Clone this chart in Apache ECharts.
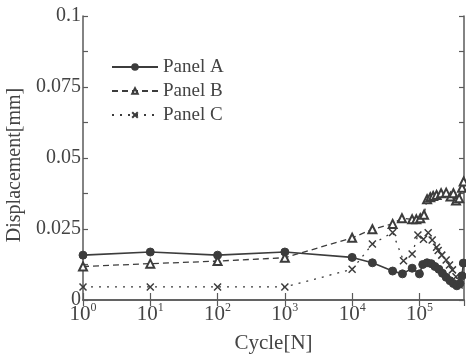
<!DOCTYPE html>
<html>
<head>
<meta charset="utf-8">
<script src="https://cdn.jsdelivr.net/npm/echarts@6/dist/echarts.min.js"></script>
<style>
  html, body { margin: 0; padding: 0; background: #fff; }
  #chart { width: 466px; height: 356px; }
</style>
</head>
<body>
<div id="chart"></div>
<script>
// Panel A (solid line, filled circles)
const cycleA = [1, 10, 100, 1000, 10000, 20000, 40000, 56000, 78000, 100000,
  112000, 130000, 150000, 170000, 195000, 220000, 250000, 285000, 320000, 360000, 400000, 430000, 450000]
const dispA = [0.0158, 0.0169, 0.0158, 0.0169, 0.0150, 0.0131, 0.0102, 0.0092, 0.0112, 0.0092,
  0.0125, 0.0131, 0.0128, 0.0118, 0.0108, 0.0094, 0.0080, 0.0068, 0.0058, 0.0050, 0.0058, 0.0085, 0.0130]

// Panel B (dashed line, open triangles)
const cycleB = [1, 10, 100, 1000, 10000, 20000, 40000, 55000, 78000, 90000, 103000, 117000,
  130000, 145000, 160000, 180000, 210000, 250000, 290000, 320000, 350000, 390000, 430000, 455000]
const dispB = [0.0118, 0.0128, 0.0137, 0.0149, 0.0219, 0.0249, 0.0268, 0.0288, 0.0284, 0.0284, 0.0288, 0.0300,
  0.0355, 0.0362, 0.0366, 0.0370, 0.0376, 0.0378, 0.0364, 0.0376, 0.0350, 0.0358, 0.0395, 0.0417]

// Panel C (dotted line, x marks)
const cycleC = [1, 10, 100, 1000, 10000, 20000, 40000, 58000, 78000, 95000, 115000, 135000,
  155000, 180000, 190000, 215000, 250000, 280000, 310000, 350000, 390000]
const dispC = [0.0046, 0.0046, 0.0046, 0.0046, 0.0108, 0.0197, 0.0238, 0.0138, 0.0162, 0.0229, 0.0214, 0.0237,
  0.0211, 0.0186, 0.0174, 0.0158, 0.0141, 0.0123, 0.0106, 0.0082, 0.0053]

const xMin = 1
const xMax = 460000
const yTicks = [0, 0.025, 0.05, 0.075, 0.1]

const pairs = (xs, ys) => xs.map((x, i) => [x, ys[i]])

const font = '"Liberation Serif", "DejaVu Serif", serif'
const ink = '#3c3c3c'
const axisColor = '#5a5a5a'

const chart = echarts.init(document.getElementById('chart'))
chart.setOption({
  animation: false,
  backgroundColor: '#fff',
  grid: {
    left: 83,
    right: 2,
    top: 16,
    bottom: 56,
    containLabel: false,
    outerBoundsMode: 'none'
  },
  legend: {
    orient: 'vertical',
    left: 106,
    top: 52,
    itemWidth: 46,
    itemHeight: 7,
    itemGap: 4,
    textStyle: { fontFamily: font, fontSize: 19, color: '#444', lineHeight: 20 },
    data: ['Panel A', 'Panel B', 'Panel C']
  },
  xAxis: [
    {
      type: 'log',
      logBase: 10,
      min: xMin,
      max: xMax,
      name: 'Cycle[N]',
      nameLocation: 'middle',
      nameGap: 33,
      nameTextStyle: { fontFamily: font, fontSize: 21, color: '#444' },
      axisLine: { lineStyle: { color: axisColor, width: 1.5 } },
      axisTick: { inside: true, length: 7, lineStyle: { color: axisColor, width: 1.2 } },
      splitLine: { show: false },
      axisLabel: {
        margin: 2,
        showMaxLabel: false,
        formatter: v => '{b|10}{s|' + Math.round(Math.log10(v)) + '}',
        rich: {
          b: { fontFamily: font, fontSize: 21, color: '#444' },
          s: { fontFamily: font, fontSize: 12, color: '#444', padding: [0, 0, 12, 0] }
        }
      }
    },
    {
      type: 'log',
      logBase: 10,
      min: xMin,
      max: xMax,
      position: 'top',
      axisLine: { lineStyle: { color: axisColor, width: 1.5 } },
      axisTick: { inside: true, length: 6, lineStyle: { color: axisColor, width: 1.2 } },
      axisLabel: { show: false },
      splitLine: { show: false }
    }
  ],
  yAxis: [
    {
      type: 'value',
      min: yTicks[0],
      max: yTicks[yTicks.length - 1],
      interval: 0.025,
      name: 'Displacement[mm]',
      nameLocation: 'middle',
      nameGap: 37,
      nameTextStyle: { fontFamily: font, fontSize: 20, color: '#444', padding: [0, 14, 0, 0] },
      axisLine: { show: true, lineStyle: { color: axisColor, width: 1.5 } },
      axisTick: { show: true, inside: true, length: 5, lineStyle: { color: axisColor, width: 1.2 } },
      minorTick: { show: true, splitNumber: 2, length: 5, lineStyle: { color: axisColor, width: 1.2 } },
      splitLine: { show: false },
      axisLabel: { margin: 2, fontFamily: font, fontSize: 20, color: '#444' }
    },
    {
      type: 'value',
      min: yTicks[0],
      max: yTicks[yTicks.length - 1],
      interval: 0.025,
      position: 'right',
      axisLine: { show: true, lineStyle: { color: axisColor, width: 1.5 } },
      axisTick: { show: true, inside: true, length: 5, lineStyle: { color: axisColor, width: 1.2 } },
      minorTick: { show: true, splitNumber: 2, length: 5, lineStyle: { color: axisColor, width: 1.2 } },
      splitLine: { show: false },
      axisLabel: { show: false }
    }
  ],
  series: [
    {
      name: 'Panel A',
      type: 'line',
      data: pairs(cycleA, dispA),
      symbol: 'circle',
      symbolSize: 8,
      showAllSymbol: true,
      lineStyle: { color: ink, width: 1.6 },
      itemStyle: { color: ink, borderColor: ink, borderWidth: 1 }
    },
    {
      name: 'Panel B',
      type: 'line',
      data: pairs(cycleB, dispB),
      symbol: 'emptyTriangle',
      symbolSize: 8,
      showAllSymbol: true,
      lineStyle: { color: ink, width: 1.3, type: [6, 4] },
      itemStyle: { color: ink, borderColor: ink, borderWidth: 1.2 }
    },
    {
      name: 'Panel C',
      type: 'line',
      data: pairs(cycleC, dispC),
      symbol: 'path://M0,0L10,10M10,0L0,10',
      symbolSize: 7,
      showAllSymbol: true,
      lineStyle: { color: ink, width: 1.3, type: [2, 6] },
      itemStyle: { color: ink, borderColor: ink, borderWidth: 1.5 }
    }
  ]
})
</script>
</body>
</html>
